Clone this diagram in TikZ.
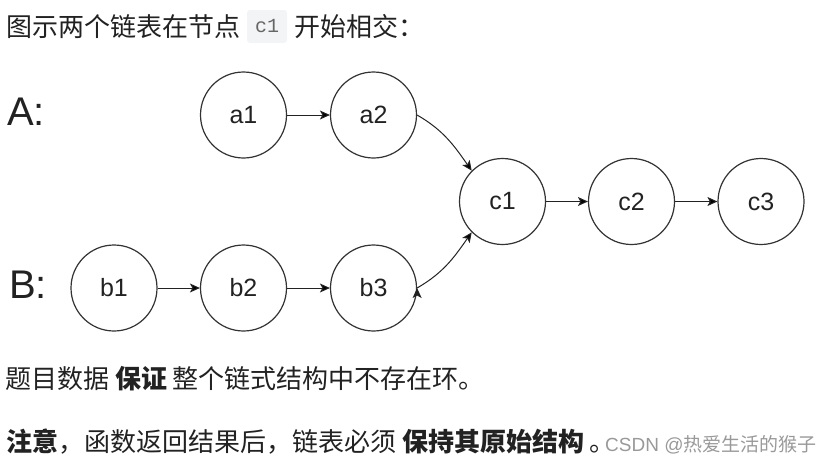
\documentclass[tikz,border=0pt]{standalone}
\usepackage{fontspec}
\setmainfont{Noto Sans CJK SC}
\newfontfamily\labelfont{Liberation Sans}
\newfontfamily\codefont{Liberation Mono}
\usetikzlibrary{automata, arrows.meta, positioning}
\definecolor{ink}{HTML}{222222}
\definecolor{rim}{HTML}{333333}
\definecolor{codebg}{HTML}{F3F4F5}
\definecolor{codefg}{HTML}{666666}
\definecolor{markfg}{HTML}{999999}

\begin{document}
\begin{tikzpicture} [
    x=1pt, y=1pt,
    every state/.style = {draw=rim, line width=1.2pt, minimum size=86pt,
        inner sep=0pt, text=ink, font=\labelfont\fontsize{25}{30}\selectfont},
    txt/.style = {anchor=base west, inner sep=0pt, text=ink,
        font=\fontsize{26}{30}\selectfont},
    conn/.style = {draw=ink, line width=1pt,
        -{Stealth[length=10pt, width=9pt, inset=2.5pt]}}]
    \useasboundingbox (0,0) rectangle (829,-469);

    \node (intro) [txt] at (6,-36) {图示两个链表在节点};
    \node (code) [fill=codebg, rounded corners=3pt, minimum width=40pt,
        minimum height=33pt, inner sep=0pt, text=codefg,
        font=\codefont\fontsize{20}{24}\selectfont] at (267,-26.5) {c1};
    \node (intro2) [txt] at (294,-36) {开始相交：};

    \node (A) [txt, font=\labelfont\fontsize{40}{48}\selectfont] at (7,-125) {A:};
    \node (B) [txt, font=\labelfont\fontsize{40}{48}\selectfont] at (9,-298) {B:};

    \node (a1) [state] at (243.5,-115) {a1};
    \node (a2) [state] at (373.5,-115) {a2};

    \node (b1) [state] at (114,-288) {b1};
    \node (b2) [state] at (243.5,-288) {b2};
    \node (b3) [state] at (373.5,-288) {b3};

    \node (c1) [state] at (502.5,-201.5) {c1};
    \node (c2) [state] at (631.5,-201.5) {c2};
    \node (c3) [state] at (761,-201.5) {c3};

    \path [conn]
        (a1) edge (a2)
        (a2.east) edge [out=-30, in=125] (c1.135)

        (b1) edge (b2)
        (b2) edge (b3)
        (b3.east) edge [out=30, in=235] (c1.225)

        (c1) edge (c2)
        (c2) edge (c3);

    \node (note1) [txt] at (5,-388)
        {题目数据 \textbf{保证} 整个链式结构中不存在环。};
    \node (note2) [txt] at (6,-451)
        {\textbf{注意}，函数返回结果后，链表必须 \textbf{保持其原始结构} 。};
    \node (mark) [txt, text=markfg, font=\fontsize{19}{23}\selectfont]
        at (605,-451) {{\labelfont CSDN @}热爱生活的猴子};
\end{tikzpicture}
\end{document}
